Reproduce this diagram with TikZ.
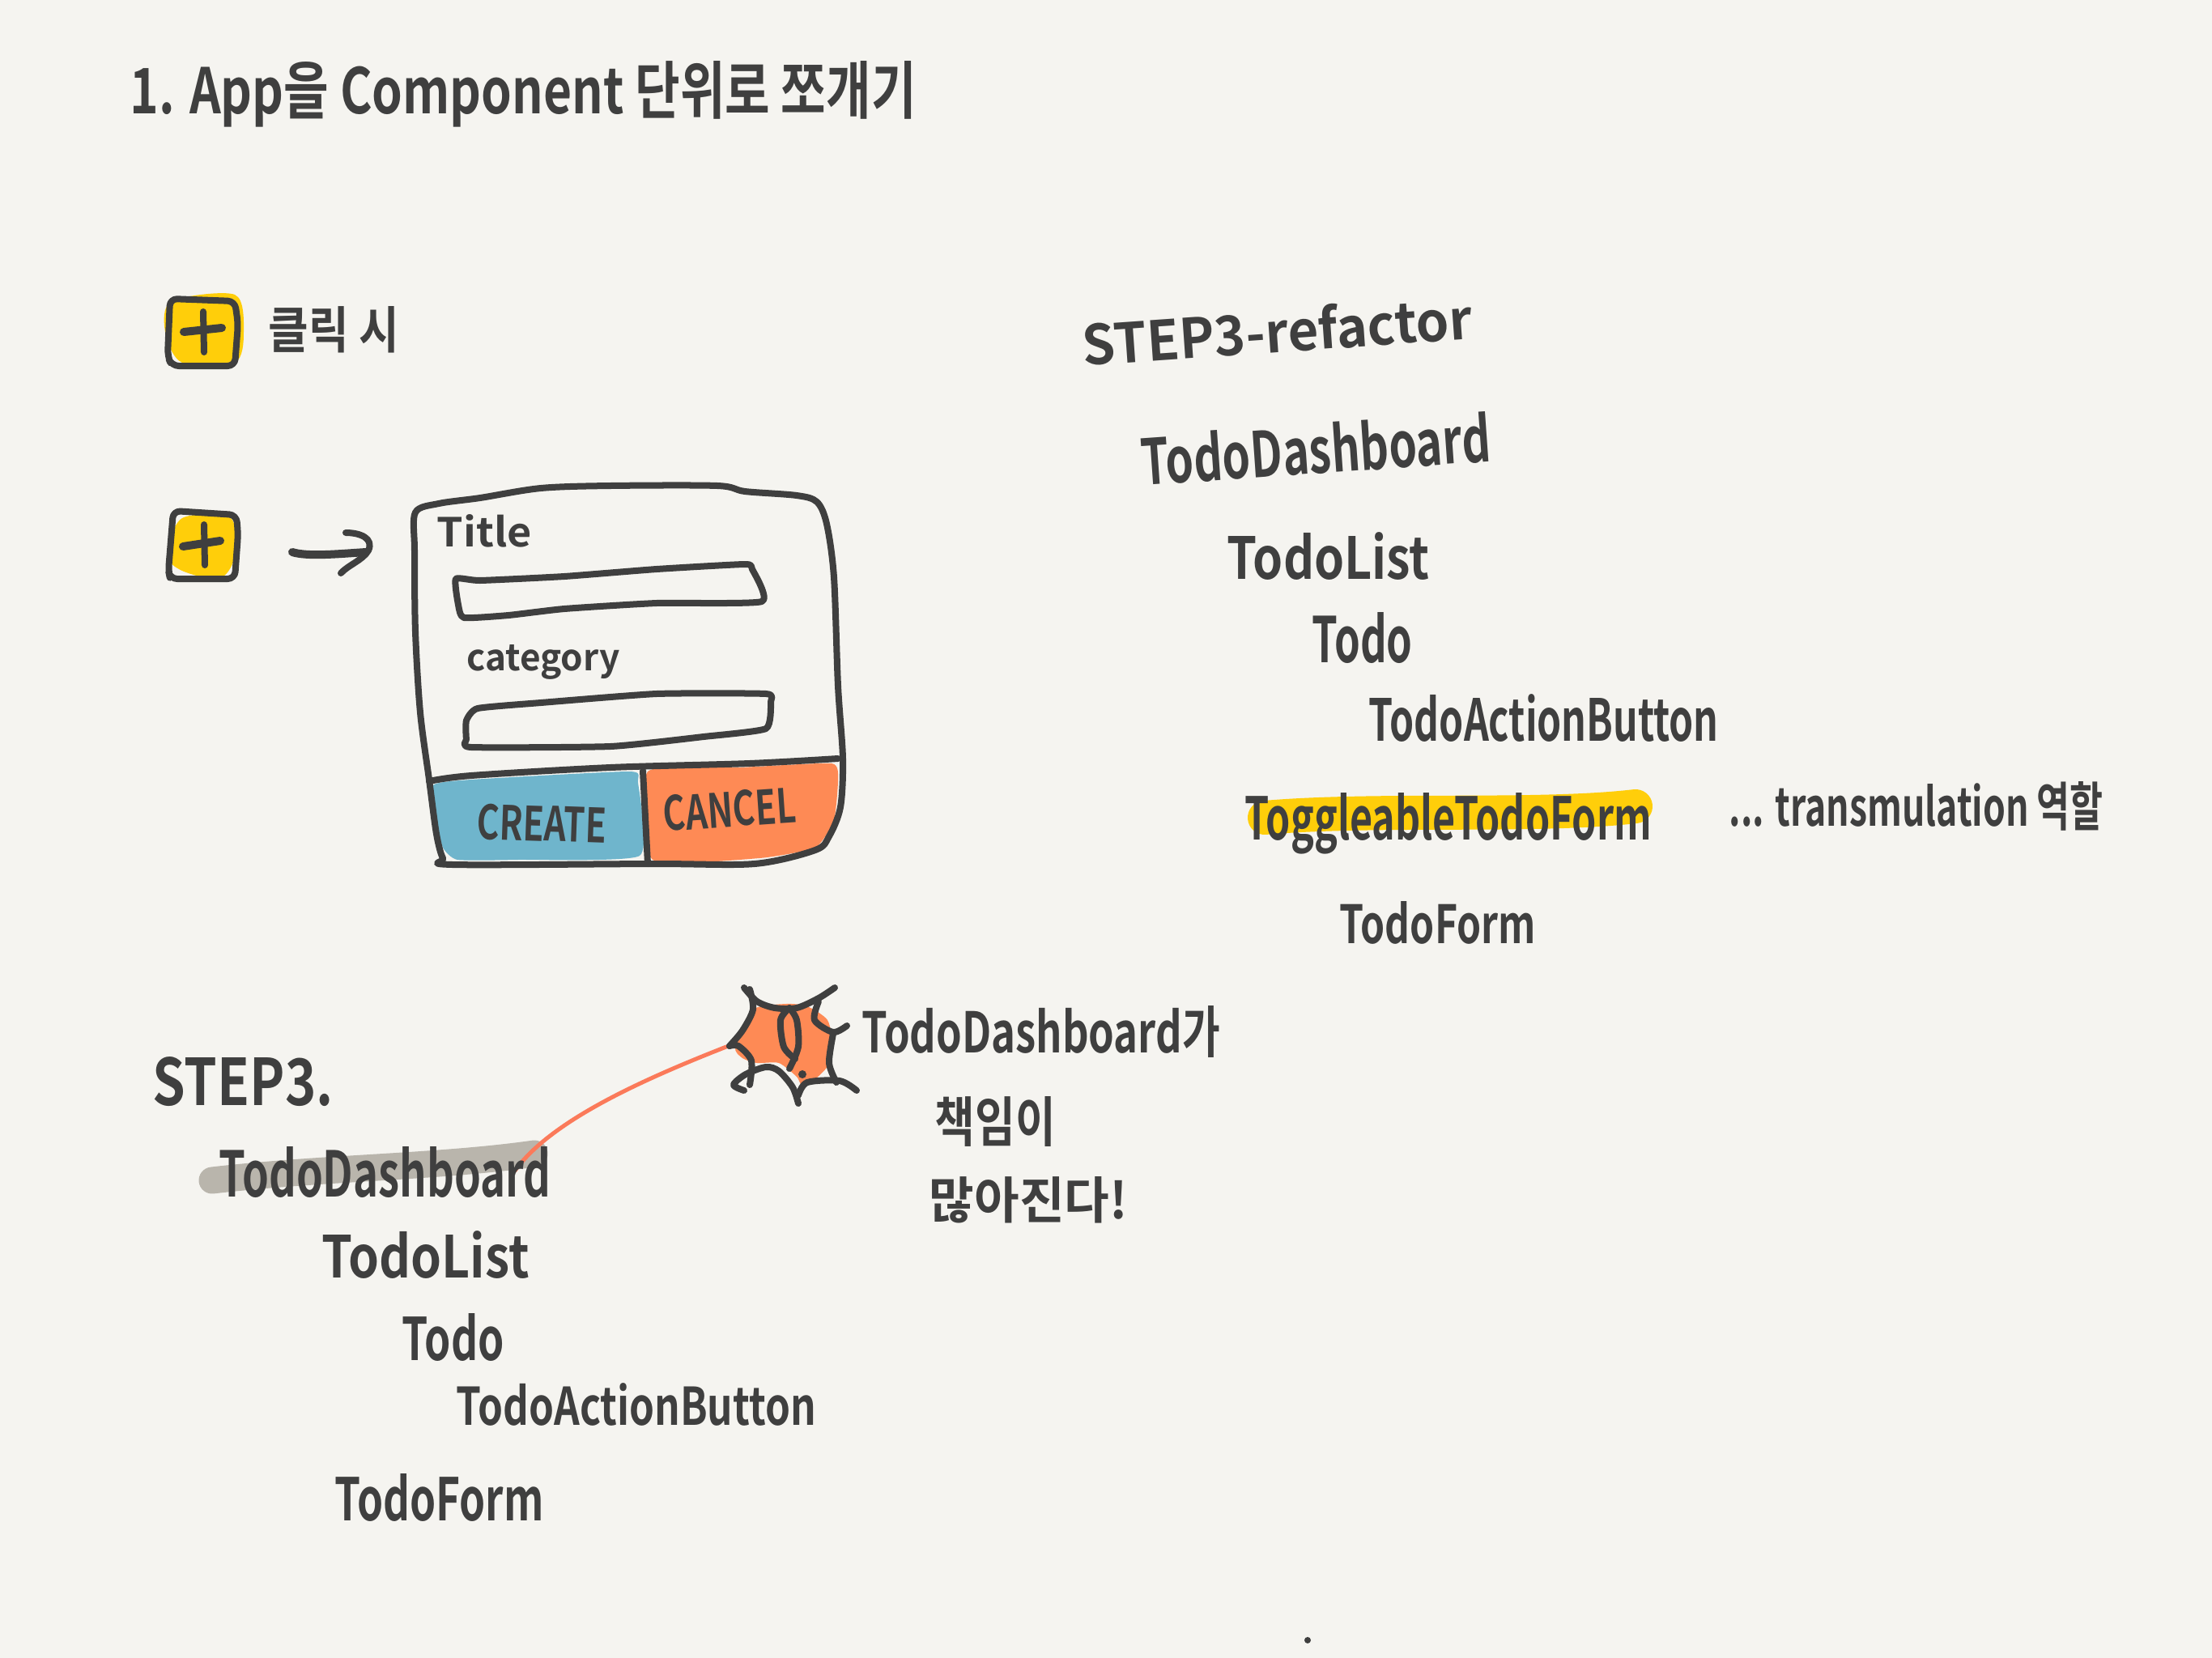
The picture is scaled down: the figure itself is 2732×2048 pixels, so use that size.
\documentclass[tikz,border=0pt]{standalone}
\usepackage{fontspec}
\usepackage{graphicx}
\setmainfont{Noto Sans CJK KR}[BoldFont=* Bold]
\usetikzlibrary{positioning}

\definecolor{paper}{HTML}{F5F4F0}
\definecolor{ink}{HTML}{3F3F3F}
\definecolor{marker}{HTML}{FFCE0A}
\definecolor{createblue}{HTML}{6FB5CC}
\definecolor{cancelorange}{HTML}{FE8A55}
\definecolor{linkred}{HTML}{FB7A5A}
\definecolor{smudge}{HTML}{B9B5AC}

\newlength\pxu
\setlength\pxu{0.01cm}
\newcommand{\hand}[3]{\resizebox{#1\pxu}{#2\pxu}{\bfseries #3}}

\begin{document}
\begin{tikzpicture}[x=0.01cm,y=-0.01cm,line cap=round,line join=round]
  \tikzstyle{every node}=[text=ink,inner sep=0pt,anchor=base west]
  \tikzstyle{pen}=[draw=ink,line width=0.08cm]
  \tikzstyle{thickpen}=[draw=ink,line width=0.1cm]

  \fill[paper] (0,0) rectangle (2732,2048);
  \useasboundingbox (0,0) rectangle (2732,2048);

  % highlights go under the writing
  \draw[smudge,line width=0.33cm] (262,1458) .. controls (400,1442) and (540,1442) .. (660,1425);
  \draw[marker,line width=0.42cm] (1562,1010) .. controls (1700,998) and (1900,1010) .. (2020,996);

  % plus buttons
  \fill[marker] plot[smooth cycle] coordinates {(212,372) (290,364) (301,410) (290,448) (225,448) (204,410)};
  \draw[pen,rounded corners=2.5pt] (210,369) -- (290,372) -- (294,400) -- (290,452) -- (212,452) -- (207,440) -- cycle;
  \draw[pen] (251,385) -- (252,435);
  \draw[thickpen] (227,410) -- (274,405);

  \fill[marker] plot[smooth cycle] coordinates {(225,640) (285,640) (289,690) (270,715) (225,705) (206,685)};
  \draw[pen,rounded corners=2.5pt] (214,631) -- (292,636) -- (294,660) -- (290,715) -- (210,715) -- (208,705) -- cycle;
  \draw[pen] (252,648) -- (253,698);
  \draw[thickpen] (226,675) -- (272,668);

  % arrow to the card
  \coordinate (arrowTail) at (361,682);
  \coordinate (arrowTip)  at (452,682);
  \coordinate (arrowTop)  at (427,658);
  \coordinate (arrowEnd)  at (421,708);
  \draw[thickpen] (arrowTail) .. controls (380,688) and (420,684) .. (arrowTip);
  \draw[pen] (arrowTop) .. controls (445,658) and (462,665) .. (455,680) .. controls (448,692) and (430,698) .. (arrowEnd);

  % card
  \fill[createblue] plot[smooth cycle,tension=.3] coordinates {(535,970) (582,963) (777,953) (788,967) (790,1057) (639,1062) (565,1062) (547,1047) (539,1013)};
  \fill[cancelorange] plot[smooth cycle,tension=.3] coordinates {(800,953) (915,948) (1027,943) (1035,963) (1030,1013) (1007,1047) (938,1060) (806,1062)};
  \draw[pen] plot[smooth cycle,tension=.5] coordinates {(513,633) (542,622) (593,615) (668,603) (754,600) (886,600) (920,607) (984,612) (1009,620) (1021,647) (1030,713) (1035,847) (1041,937) (1038,997) (1024,1033) (1007,1050) (932,1067) (806,1067) (559,1068) (547,1060) (539,1030) (530,963) (519,880) (513,780) (512,680)};
  \draw[pen] plot[smooth,tension=.5] coordinates {(530,965) (582,958) (754,948) (926,943) (1035,937)};
  \draw[pen] (794,952) -- (800,1067);
  \draw[pen] plot[smooth cycle,tension=.3] coordinates {(563,715) (593,717) (697,712) (811,703) (920,697) (929,703) (941,743) (811,745) (697,752) (628,760) (573,763) (566,747)};
  \draw[pen] plot[smooth cycle,tension=.3] coordinates {(576,890) (590,875) (668,868) (811,857) (946,857) (952,867) (946,900) (869,910) (754,922) (582,923) (576,913)};

  % link and burst
  \coordinate (linkStart) at (636,1446);
  \coordinate (burstWest) at (897,1293);
  \draw[linkred,line width=0.05cm] (linkStart) .. controls (680,1385) and (790,1335) .. (burstWest);
  \fill[cancelorange] plot[smooth cycle,tension=.4] coordinates {(971,1240) (997,1243) (1022,1260) (1029,1293) (1020,1320) (993,1343) (984,1330) (962,1313) (935,1313) (917,1307) (908,1293) (930,1247)};
  \draw[pen] plot[smooth] coordinates {(919,1220) (935,1237) (957,1245) (984,1245) (1011,1233) (1031,1220)};
  \draw[pen] plot[smooth] coordinates {(926,1222) (930,1247) (917,1273) (901,1292)};
  \draw[pen] plot[smooth] coordinates {(901,1292) (912,1292) (928,1310) (926,1340)};
  \draw[pen] plot[smooth] coordinates {(919,1347) (906,1340) (921,1327) (946,1318) (962,1323) (979,1343) (986,1363)};
  \draw[pen] plot[smooth] coordinates {(986,1353) (997,1337) (1037,1335) (1058,1347)};
  \draw[pen] plot[smooth] coordinates {(1033,1337) (1024,1313) (1029,1277)};
  \draw[pen] plot[smooth] coordinates {(1011,1237) (1006,1260) (1029,1275) (1046,1267)};
  \draw[pen] plot[smooth] coordinates {(975,1245) (984,1260) (986,1293) (975,1320)};
  \draw[pen] plot[smooth] coordinates {(975,1245) (964,1260) (968,1293) (982,1308)};
  \fill[ink] (991,1327) circle (5);
  \fill[ink] (1615,2026) circle (4);

  % writing
  \node (title)      at (160,140)  {\hand{971}{65}{1. App을 Component 단위로 쪼개기}};
  \node (clickNote)  at (331,430)  {\hand{161}{52}{클릭 시}};
  \node (titleLabel) at (539,675)  {\hand{117}{40}{Title}};
  \node (catLabel)   at (576,828)  {\hand{189}{32}{category}};
  \node (createText) [rotate=-2] at (588,1036) {\hand{160}{44}{CREATE}};
  \node (cancelText) [rotate=4]  at (820,1027) {\hand{164}{44}{CANCEL}};

  \node (refactorHead) [rotate=4] at (1338,452) {\hand{482}{55}{STEP3-refactor}};
  \node (dashRight)    [rotate=4] at (1411,600) {\hand{432}{62}{TodoDashboard}};
  \node (listRight)    at (1515,715) {\hand{250}{58}{TodoList}};
  \node (todoRight)    at (1620,818) {\hand{124}{62}{Todo}};
  \node (actionRight)  at (1690,915) {\hand{432}{58}{TodoActionButton}};
  \node (toggleForm)   at (1537,1037) {\hand{502}{58}{ToggleableTodoForm}};
  \node (transNote)    at (2135,1020) {\hand{462}{55}{... transmulation 역할}};
  \node (formRight)    at (1654,1165) {\hand{242}{52}{TodoForm}};

  \node (stepHead)     at (188,1365) {\hand{223}{60}{STEP3.}};
  \node (dashLeft)     at (270,1478) {\hand{410}{62}{TodoDashboard}};
  \node (listLeft)     at (397,1578) {\hand{256}{58}{TodoList}};
  \node (todoLeft)     at (496,1680) {\hand{126}{58}{Todo}};
  \node (actionLeft)   at (563,1760) {\hand{444}{52}{TodoActionButton}};
  \node (formLeft)     at (413,1878) {\hand{258}{58}{TodoForm}};

  \node (dashNote)     at (1064,1300) {\hand{442}{58}{TodoDashboard가}};
  \node (dutyNote)     at (1154,1410) {\hand{149}{56}{책임이}};
  \node (moreNote)     at (1147,1505) {\hand{245}{52}{많아진다!}};
\end{tikzpicture}
\end{document}
